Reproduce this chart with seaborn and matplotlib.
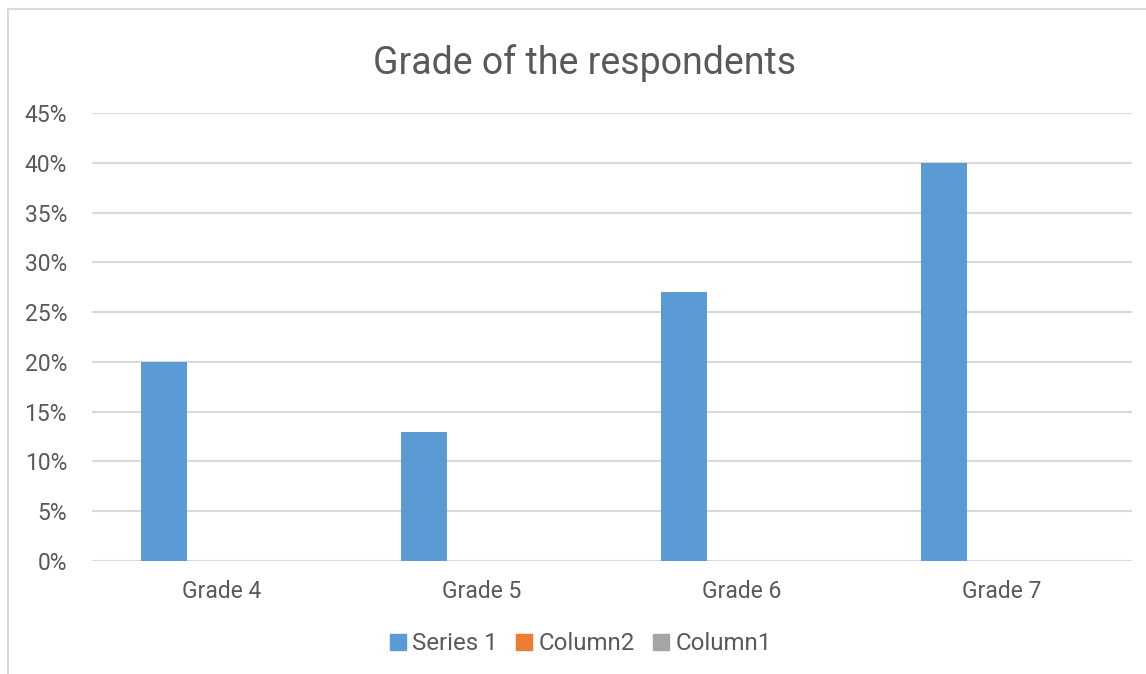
import matplotlib
matplotlib.use("Agg")
import matplotlib.pyplot as plt
from matplotlib.patches import Rectangle
from matplotlib.lines import Line2D
from matplotlib.ticker import PercentFormatter
import pandas as pd
import seaborn as sns

categories = ["Grade 4", "Grade 5", "Grade 6", "Grade 7"]
series_names = ["Series 1", "Column2", "Column1"]
series_1 = [0.20, 0.13, 0.27, 0.40]
column2 = [0.0, 0.0, 0.0, 0.0]
column1 = [0.0, 0.0, 0.0, 0.0]
colors = ["#5B9BD5", "#ED7D31", "#A5A5A5"]

df = pd.DataFrame({
    "grade": categories * 3,
    "series": [s for s in series_names for _ in categories],
    "value": series_1 + column2 + column1,
})

sns.set_theme(style="white")
plt.rcParams["font.family"] = ["Roboto", "DejaVu Sans"]
text_color = "#595959"
grid_color = "#D9D9D9"

fig = plt.figure(figsize=(11.46, 6.74), dpi=100)
fig.patch.set_facecolor("white")

# outer chart frame
fig.add_artist(Rectangle((8 / 1146, -0.05), 1.2, 1 - 9 / 674 + 0.05,
                         transform=fig.transFigure, fill=False,
                         edgecolor=grid_color, linewidth=1.5, zorder=0))

ax = fig.add_axes([92 / 1146, 1 - 561 / 674, (1132 - 92) / 1146, (561 - 113) / 674])
sns.barplot(data=df, x="grade", y="value", hue="series", hue_order=series_names,
            palette=colors, width=0.67, gap=0.21, saturation=1, ax=ax,
            legend=False, errorbar=None, linewidth=0, edgecolor="none")

ax.set_ylim(0, 0.45)
ax.set_xlim(-0.5, 3.5)
ax.set_yticks([i * 0.05 for i in range(10)])
ax.yaxis.set_major_formatter(PercentFormatter(xmax=1, decimals=0))
ax.yaxis.grid(True, color=grid_color, linewidth=1.5)
ax.set_axisbelow(True)
for sp in ax.spines.values():
    sp.set_visible(False)
ax.tick_params(axis="both", length=0, labelsize=16.5, colors=text_color)
ax.tick_params(axis="y", pad=18)
ax.tick_params(axis="x", pad=14)
ax.set_xlabel("")
ax.set_ylabel("")

fig.text(585 / 1146, 1 - 63 / 674, "Grade of the respondents", ha="center", va="center",
         fontsize=27, color=text_color)

handles = [Line2D([], [], marker="s", linestyle="none", markersize=11,
                  markerfacecolor=c, markeredgecolor=c) for c in colors]
fig.legend(handles, series_names, loc="center", bbox_to_anchor=(579 / 1146, 1 - 644 / 674),
           ncol=3, frameon=False, fontsize=17.3, labelcolor=text_color,
           handletextpad=0.1, columnspacing=0.6, handlelength=1.0)

fig.savefig("out.png", dpi=100, facecolor="white")
